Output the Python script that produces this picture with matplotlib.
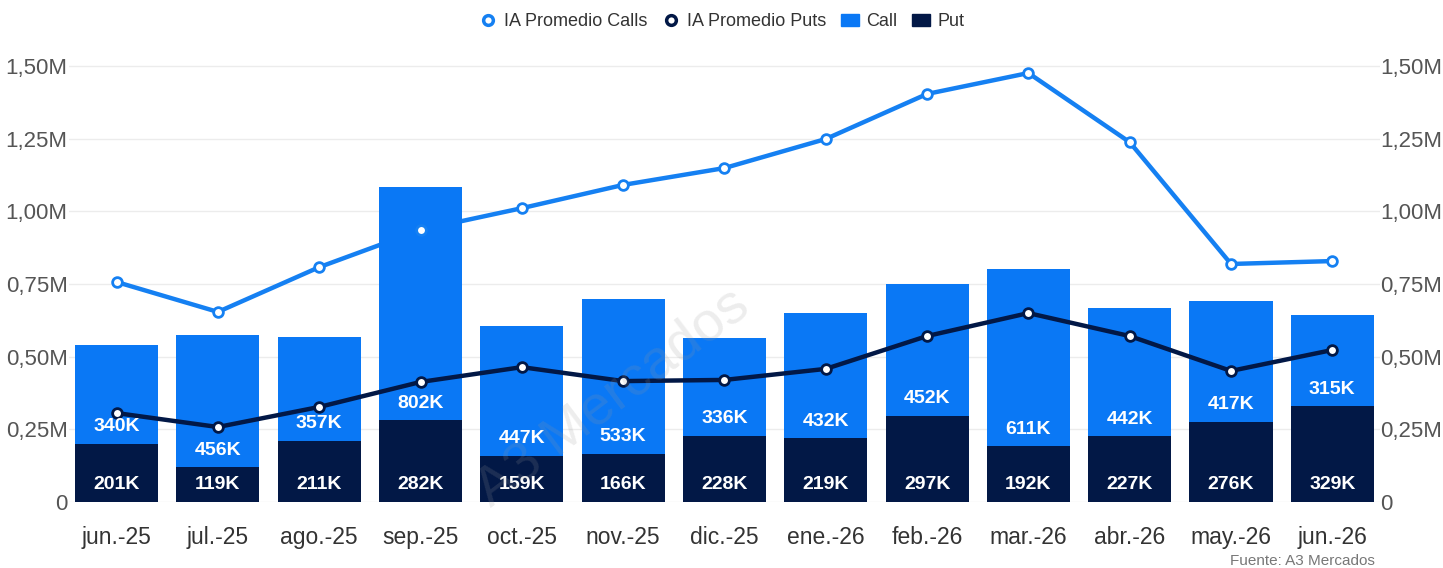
import numpy as np
import matplotlib.pyplot as plt
from matplotlib.lines import Line2D
from matplotlib.patches import Patch
from matplotlib.ticker import FuncFormatter

plt.rcParams['font.family'] = ['Liberation Sans', 'DejaVu Sans']

# data (values in millions)
months = ['jun.-25', 'jul.-25', 'ago.-25', 'sep.-25', 'oct.-25', 'nov.-25', 'dic.-25',
          'ene.-26', 'feb.-26', 'mar.-26', 'abr.-26', 'may.-26', 'jun.-26']
put_k = [201, 119, 211, 282, 159, 166, 228, 219, 297, 192, 227, 276, 329]
call_k = [340, 456, 357, 802, 447, 533, 336, 432, 452, 611, 442, 417, 315]
ia_calls = [0.757, 0.654, 0.808, 0.936, 1.011, 1.091, 1.149, 1.249, 1.404, 1.476, 1.238, 0.819, 0.829]
ia_puts = [0.306, 0.258, 0.327, 0.413, 0.464, 0.416, 0.420, 0.458, 0.571, 0.650, 0.571, 0.451, 0.523]
yticks = [0, 0.25, 0.5, 0.75, 1.0, 1.25, 1.5]

c_call = '#0a78f5'
c_put = '#021846'

fig = plt.figure(figsize=(14.43, 5.68), dpi=100)
ax = fig.add_axes([0.0478, 0.1162, 0.9085, 0.7931])

x = np.arange(len(months))
put = np.array(put_k) / 1000
call = np.array(call_k) / 1000
w = 0.82

ax.bar(x, put, w, color=c_put, zorder=2)
ax.bar(x, call, w, bottom=put, color=c_call, zorder=2)

for i in range(len(x)):
    ax.text(x[i], 0.06, f'{put_k[i]}K', ha='center', va='center', color='white',
            fontsize=14, fontweight='bold', zorder=5)
    ax.text(x[i], put[i] + 0.058, f'{call_k[i]}K', ha='center', va='center', color='white',
            fontsize=14, fontweight='bold', zorder=5)

# calls line sits behind the bars, markers on top
ax.plot(x, ia_calls, color='#1580f2', lw=3.2, zorder=1)
ax.plot(x, ia_calls, ls='none', marker='o', ms=7, mfc='white', mec='#1580f2', mew=2, zorder=4)
ax.plot(x, ia_puts, color=c_put, lw=3.2, marker='o', ms=7, mfc='white', mec=c_put, mew=2, zorder=4)

ax.set_xlim(-0.47, len(x) - 0.53)
ax.set_ylim(0, 1.55)
fmt = FuncFormatter(lambda v, p: '0' if v == 0 else f'{v:.2f}'.replace('.', ',') + 'M')
ax.set_yticks(yticks)
ax.yaxis.set_major_formatter(fmt)
ax.grid(axis='y', color='#ececec', lw=1, zorder=0)
ax.set_axisbelow(True)
ax.set_xticks(x)
ax.set_xticklabels(months)
ax.tick_params(axis='x', length=0, labelsize=16.5, colors='#333333', pad=17)
ax.tick_params(axis='y', length=0, labelsize=16, colors='#555555', pad=1)
for s in ax.spines.values():
    s.set_visible(False)

ax2 = ax.twinx()
ax2.set_ylim(ax.get_ylim())
ax2.set_yticks(yticks)
ax2.yaxis.set_major_formatter(fmt)
ax2.tick_params(axis='y', length=0, labelsize=16, colors='#555555', pad=0)
for s in ax2.spines.values():
    s.set_visible(False)

handles = [
    Line2D([], [], ls='none', marker='o', ms=7, mfc='white', mec='#1580f2', mew=2.5),
    Line2D([], [], ls='none', marker='o', ms=7, mfc='white', mec=c_put, mew=2.5),
    Patch(color=c_call), Patch(color=c_put),
]
labels = ['IA Promedio Calls', 'IA Promedio Puts', 'Call', 'Put']
fig.legend(handles, labels, loc='upper center', bbox_to_anchor=(0.50, 1.005), ncol=4,
           frameon=False, fontsize=13, handlelength=1.0, handletextpad=0.4,
           columnspacing=0.8, labelcolor='#333333')

fig.text(0.425, 0.30, 'A3 Mercados', rotation=37, fontsize=40, color='#9a9a9a', alpha=0.18,
         ha='center', va='center', zorder=10)
fig.text(0.953, 0.0, 'Fuente: A3 Mercados', ha='right', va='bottom', fontsize=11, color='#777777')

fig.savefig('out.png', dpi=100)
